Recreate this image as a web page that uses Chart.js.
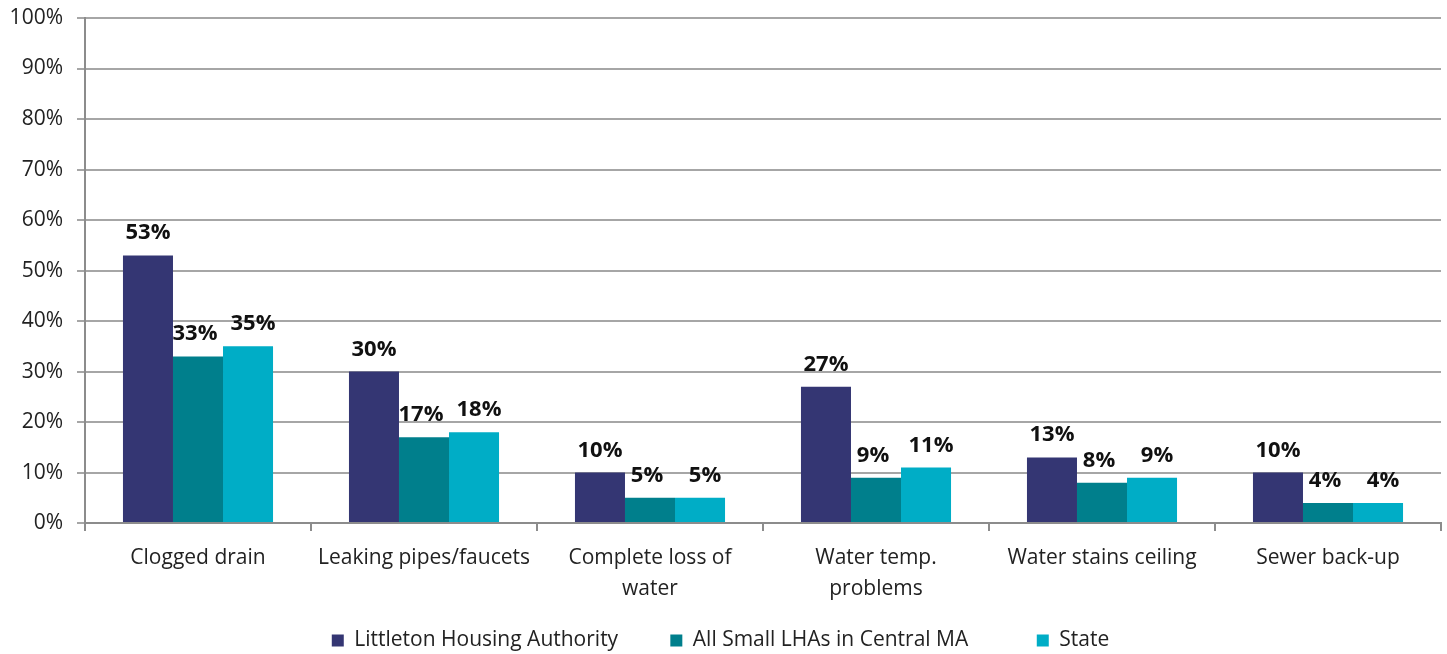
<!DOCTYPE html>
<html>
<head>
<meta charset="utf-8">
<script src="https://cdn.jsdelivr.net/npm/chart.js@4"></script>
<style>
  html, body { margin: 0; padding: 0; background: #fff; }
  #wrap { width: 1447px; height: 654px; }
</style>
</head>
<body>
<div id="wrap"><canvas id="chart"></canvas></div>
<script>
const categories = [
  "Clogged drain",
  "Leaking pipes/faucets",
  ["Complete loss of", "water"],
  ["Water temp.", "problems"],
  "Water stains ceiling",
  "Sewer back-up"
];
const littleton = [53, 30, 10, 27, 13, 10];
const smallLHAs = [33, 17, 5, 9, 8, 4];
const stateVals = [35, 18, 5, 11, 9, 4];

const seriesNames = ["Littleton Housing Authority", "All Small LHAs in Central MA", "State"];
const seriesColors = ["#343673", "#007F8C", "#00ADC6"];
const yTicks = [0, 10, 20, 30, 40, 50, 60, 70, 80, 90, 100];

const FONT = "'Open Sans', sans-serif";
const labelShift = [0, -3, 5];
const legendTail = ["       ", "          ", ""]; // extra room between legend items

// bold percent labels above each bar
const barLabels = {
  id: "barLabels",
  afterDatasetsDraw(chart) {
    const ctx = chart.ctx;
    ctx.save();
    ctx.font = "bold 22px " + FONT;
    ctx.fillStyle = "#111";
    ctx.textAlign = "center";
    ctx.textBaseline = "alphabetic";
    chart.data.datasets.forEach((ds, i) => {
      chart.getDatasetMeta(i).data.forEach((bar, j) => {
        ctx.fillText(ds.data[j] + "%", bar.x + labelShift[i], bar.y - 16);
      });
    });
    ctx.restore();
  }
};

const ctx = document.getElementById("chart").getContext("2d");
new Chart(ctx, {
  type: "bar",
  data: {
    labels: categories,
    datasets: [littleton, smallLHAs, stateVals].map((d, i) => ({
      label: seriesNames[i],
      data: d,
      backgroundColor: seriesColors[i],
      barPercentage: 1,
      categoryPercentage: 0.664
    }))
  },
  options: {
    responsive: true,
    maintainAspectRatio: false,
    animation: false,
    layout: { padding: { top: 18, right: 6, left: 0, bottom: -7 } },
    plugins: {
      tooltip: { enabled: false },
      legend: {
        position: "bottom",
        labels: {
          font: { family: FONT, size: 21 },
          color: "#222",
          boxWidth: 12,
          boxHeight: 12,
          padding: 14,
          generateLabels(chart) {
            const items = Chart.defaults.plugins.legend.labels.generateLabels(chart);
            items.forEach((it, i) => { it.text = it.text + legendTail[i]; it.lineWidth = 0; });
            return items;
          }
        }
      }
    },
    scales: {
      x: {
        grid: {
          display: true,
          drawOnChartArea: false,
          tickLength: 8,
          color: "#8c8c8c",
          lineWidth: 2
        },
        border: { color: "#8c8c8c", width: 2 },
        ticks: {
          font: { family: FONT, size: 21, lineHeight: 1.45 },
          color: "#222",
          maxRotation: 0,
          padding: 12
        }
      },
      y: {
        min: 0,
        max: 100,
        afterBuildTicks(axis) {
          axis.ticks = yTicks.map(v => ({ value: v }));
        },
        afterFit(axis) {
          axis.width = 85;
          axis.paddingTop = 0;
          axis.paddingBottom = 0;
        },
        grid: {
          color: "#a6a6a6",
          lineWidth: 2,
          tickLength: 8
        },
        border: { color: "#8c8c8c", width: 2 },
        ticks: {
          font: { family: FONT, size: 21 },
          color: "#222",
          padding: 14,
          callback: v => v + "%"
        }
      }
    }
  },
  plugins: [barLabels]
});
</script>
</body>
</html>
